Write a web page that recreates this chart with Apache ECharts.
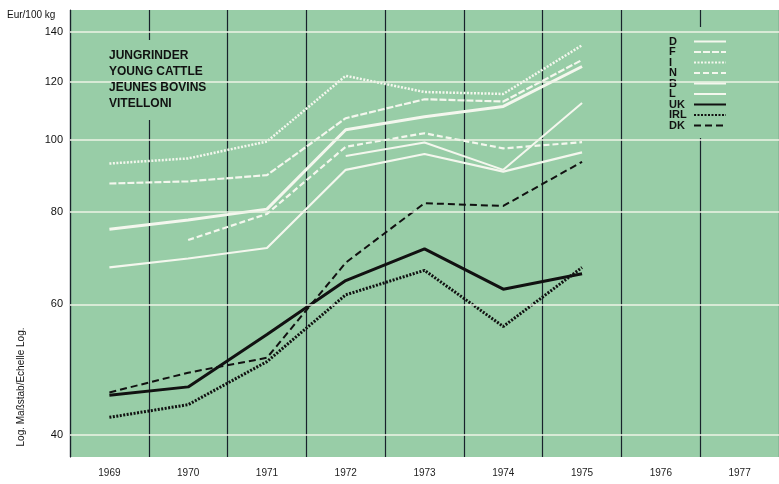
<!DOCTYPE html>
<html>
<head>
<meta charset="utf-8">
<script src="https://cdn.jsdelivr.net/npm/echarts@6/dist/echarts.min.js"></script>
<style>
html,body{margin:0;padding:0;background:#fff;}
#c{width:779px;height:484px;}
</style>
</head>
<body>
<div id="c"></div>
<script>
// ---- data (Eur/100 kg, log scale) ----
const years = ['1969','1970','1971','1972','1973','1974','1975','1976','1977'];
const gridValues = [40, 60, 80, 100, 120, 140];
const seriesNames = ['D','F','I','N','B','L','UK','IRL','DK'];
const valD   = [75.8, 78.0, 80.7, 103.3, 107.6, 111.1, 125.8];
const valF   = [87.4, 88.0, 89.7, 107.1, 113.6, 112.8, 128.4];
const valI   = [93.0, 94.5, 99.6, 122.2, 116.2, 115.5, 134.4];
const valN   = [null, 73.3, 79.5, 98.0, 102.2, 97.5, 99.4];
const valB   = [null, null, null, 95.2, 99.3, 91.2, 112.3];
const valL   = [67.3, 69.2, 71.5, 91.2, 95.8, 90.7, 96.3];
const valUK  = [45.2, 46.4, 54.6, 64.6, 71.3, 62.9, 66.0];
const valIRL = [42.2, 43.9, 50.2, 61.8, 66.7, 56.0, 67.3];
const valDK  = [45.6, 48.5, 50.8, 68.3, 82.2, 81.5, 93.5];
const titleLines = ['JUNGRINDER','YOUNG CATTLE','JEUNES BOVINS','VITELLONI'];
const unitText = 'Eur/100 kg';
const scaleText = 'Log. Maßstab/Echelle Log.';

const BG = '#98cda7';
const WHITE = '#f4f7ee';
const DARK = '#111';
const FONT = "'Liberation Sans', Arial, sans-serif";
const NARROW = "'Liberation Sans Narrow', 'Liberation Sans', Arial, sans-serif";

function line(name, data, color, width, type) {
  return {
    name: name, type: 'line', data: data, symbol: 'none', showSymbol: false,
    connectNulls: false, silent: true, z: 3,
    lineStyle: {color: color, width: width, type: type},
    itemStyle: {color: color}
  };
}

const chart = echarts.init(document.getElementById('c'), null, {renderer: 'canvas'});
chart.setOption({
  animation: false,
  backgroundColor: '#ffffff',
  grid: {left: 70, top: 10, width: 712, height: 447, show: true, backgroundColor: BG, borderWidth: 0},
  title: {
    text: titleLines.join('\n'), left: 104, top: 43,
    textStyle: {fontFamily: FONT, fontSize: 12, fontWeight: 'bold', lineHeight: 16, color: DARK}
  },
  legend: {
    orient: 'vertical', left: 655, top: 27, padding: [9, 10, 7, 14],
    backgroundColor: BG, align: 'right', itemWidth: 32, itemHeight: 8, itemGap: -0.5,
    data: seriesNames, selectedMode: false,
    itemStyle: {opacity: 0},
    formatter: function (n) { return '{a|' + n + '}'; },
    textStyle: {
      fontFamily: NARROW, fontSize: 11, fontWeight: 'bold', color: DARK, padding: 0,
      rich: {a: {width: 20, align: 'left', fontFamily: NARROW, fontSize: 11, fontWeight: 'bold', color: DARK}}
    }
  },
  xAxis: {
    type: 'category', data: years, boundaryGap: true,
    axisLine: {show: false}, axisTick: {show: false},
    axisLabel: {fontFamily: NARROW, fontSize: 10, color: '#222', margin: 11},
    splitLine: {show: true, lineStyle: {color: '#18222b', width: 1.2}}
  },
  yAxis: {
    type: 'log', logBase: 10, min: 37.3, max: 150,
    axisLabel: {show: false}, axisTick: {show: false}, splitLine: {show: false},
    axisLine: {show: true, lineStyle: {color: '#18222b', width: 1.2}}
  },
  graphic: [
    {type: 'rect', shape: {x: 144, y: 40, width: 10, height: 80}, style: {fill: BG}, z: 1, silent: true},
    {type: 'text', x: 7, y: 15, style: {text: unitText, font: '10px ' + FONT, fill: DARK, textVerticalAlign: 'middle'}, z: 10},
    {type: 'text', x: 21, y: 387, rotation: Math.PI / 2,
     style: {text: scaleText, font: '10px ' + FONT, fill: DARK, textAlign: 'center', textVerticalAlign: 'middle'}, z: 10}
  ],
  series: [
    {
      name: 'grid', type: 'line', data: [], z: 2, silent: true,
      markLine: {
        silent: true, symbol: 'none', animation: false,
        lineStyle: {color: '#eef3e6', width: 1.5, type: 'solid'},
        label: {show: true, position: 'start', formatter: '{c}', distance: 7, fontFamily: FONT, fontSize: 11, color: DARK},
        data: gridValues.map(v => ({yAxis: v}))
      }
    },
    line('D', valD, WHITE, 3, 'solid'),
    line('F', valF, WHITE, 2.2, [7, 2]),
    line('I', valI, WHITE, 2.5, [2, 1.5]),
    line('N', valN, WHITE, 2.2, [6, 3]),
    line('B', valB, WHITE, 2, 'solid'),
    line('L', valL, WHITE, 2.2, 'solid'),
    line('UK', valUK, DARK, 3, 'solid'),
    line('IRL', valIRL, DARK, 3, [2, 1.5]),
    line('DK', valDK, DARK, 2, [7, 4])
  ]
});
</script>
</body>
</html>
